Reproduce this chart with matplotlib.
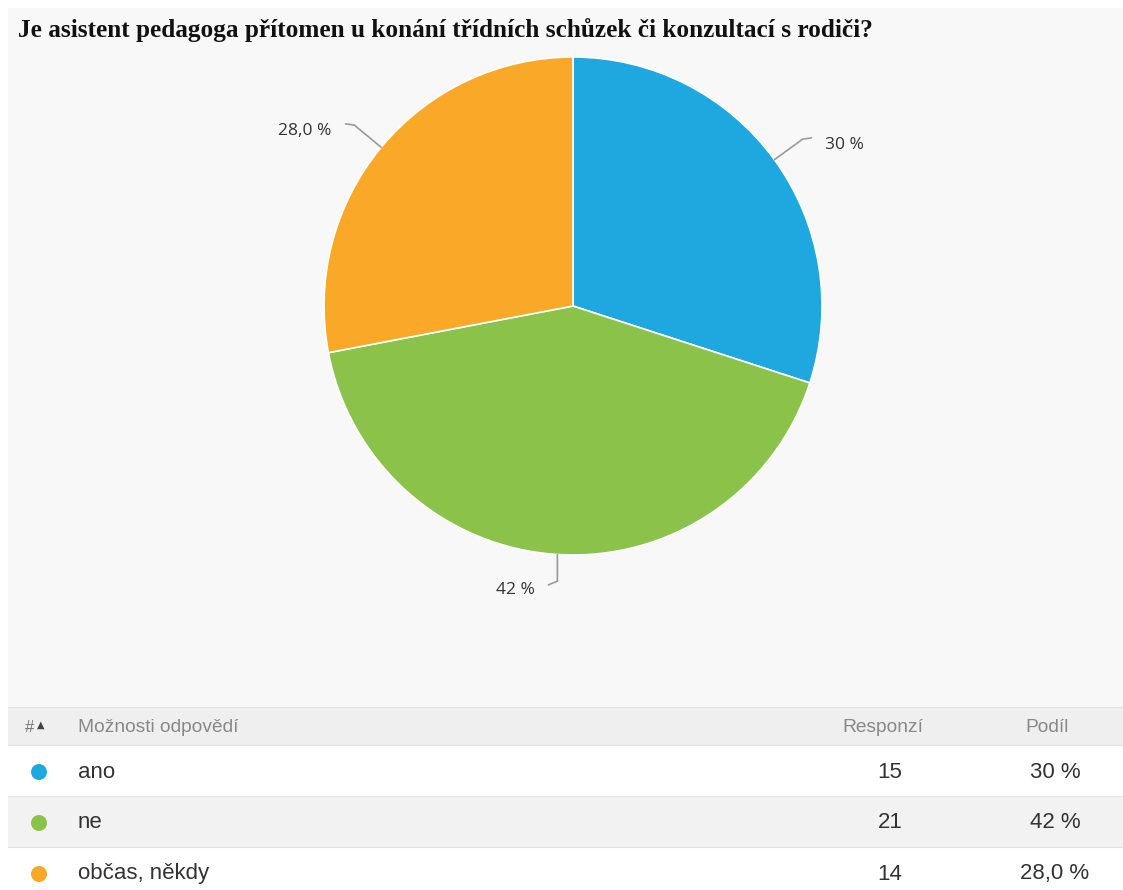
import numpy as np
import matplotlib
matplotlib.use("Agg")
import matplotlib.pyplot as plt
from matplotlib.patches import Rectangle, Circle

# Survey data
title = "Je asistent pedagoga přítomen u konání třídních schůzek či konzultací s rodiči?"
categories = ["ano", "ne", "občas, někdy"]
responses = [15, 21, 14]
share_labels = ["30 %", "42 %", "28,0 %"]
colors = ["#1fa8e0", "#8bc34a", "#f9a828"]
header = ["#", "Možnosti odpovědí", "Responzí", "Podíl"]

W, H = 1123, 890
fig = plt.figure(figsize=(W / 100, H / 100), dpi=100)
fig.patch.set_facecolor("white")

# Full-figure axes in pixel units for background, title and table
bg = fig.add_axes([0, 0, 1, 1])
bg.set_xlim(0, W)
bg.set_ylim(H, 0)
bg.axis("off")

bg.add_patch(Rectangle((8, 8), W - 8, 699, facecolor="#f8f8f8", edgecolor="none"))
bg.text(18, 36.5, title, fontsize=18.2, fontweight="bold", family="Liberation Serif",
        color="#111111", va="baseline", ha="left")

# Table rows
row_tops = [707, 745, 796, 847]
row_bottoms = [745, 796, 847, 898]
row_fills = ["#efefef", "#ffffff", "#f2f2f2", "#ffffff"]
for top, bot, fill in zip(row_tops, row_bottoms, row_fills):
    bg.add_patch(Rectangle((8, top), W - 8, bot - top, facecolor=fill, edgecolor="none"))
    bg.plot([8, W], [top, top], color="#e2e2e2", lw=0.8)

hy = 727
bg.text(25, hy, header[0], fontsize=12, family="Liberation Sans", color="#777777", va="center")
bg.text(37, hy - 2, "▲", fontsize=7, family="DejaVu Sans", color="#444444", va="center")
bg.text(78, hy, header[1], fontsize=13.8, family="Liberation Sans", color="#888888", va="center")
bg.text(883, hy, header[2], fontsize=13.8, family="Liberation Sans", color="#888888", va="center", ha="center")
bg.text(1047, hy, header[3], fontsize=13.8, family="Liberation Sans", color="#888888", va="center", ha="center")

for i, (cat, n, lab, col) in enumerate(zip(categories, responses, share_labels, colors)):
    cy = row_tops[i + 1] + 27
    bg.add_patch(Circle((39, cy), 8, facecolor=col, edgecolor="none"))
    bg.text(78, cy, cat, fontsize=16, family="Liberation Sans", color="#333333", va="center")
    bg.text(890, cy, str(n), fontsize=16, family="Liberation Sans", color="#333333", va="center", ha="center")
    bg.text(1055, cy, lab, fontsize=16, family="Liberation Sans", color="#333333", va="center", ha="center")

# Pie chart
cx, cy, r = 573, 306, 249
pad = 1.3
ax = fig.add_axes([(cx - r * pad) / W, 1 - (cy + r * pad) / H, 2 * r * pad / W, 2 * r * pad / H])
wedges, _ = ax.pie(responses, colors=colors, startangle=90, counterclock=False, radius=1,
                   wedgeprops=dict(edgecolor="white", linewidth=1.2))
ax.set_xlim(-pad, pad)
ax.set_ylim(-pad, pad)
ax.set_aspect("equal")
ax.axis("off")

# Leader lines and percentage labels
lead = dict(color="#9a9a9a", lw=1.2, solid_capstyle="round", solid_joinstyle="round")
for w, lab in zip(wedges, share_labels):
    mid = np.deg2rad((w.theta1 + w.theta2) / 2)
    x0, y0 = np.cos(mid), np.sin(mid)
    if abs(x0) < 0.2:
        # bottom label: line drops down then turns left
        x1, y1 = x0, -1.105
        x2, y2 = x0 - 0.036, -1.12
        ax.plot([x0, x1, x2], [y0, y1, y2], **lead)
        ax.text(-0.153, -1.14, lab, fontsize=12.5, family="Open Sans", color="#333333",
                ha="right", va="center")
    else:
        s = np.sign(x0)
        x1, y1 = x0 * 1.14, y0 * 1.14
        x2, y2 = x1 + s * 0.035, y1 + 0.005
        ax.plot([x0, x1, x2], [y0, y1, y2], **lead)
        ax.text(x2 + s * 0.055, y2 - 0.03, lab, fontsize=12.5, family="Open Sans", color="#333333",
                ha="left" if s > 0 else "right", va="center")

fig.savefig("out.png", dpi=100, facecolor=fig.get_facecolor())
